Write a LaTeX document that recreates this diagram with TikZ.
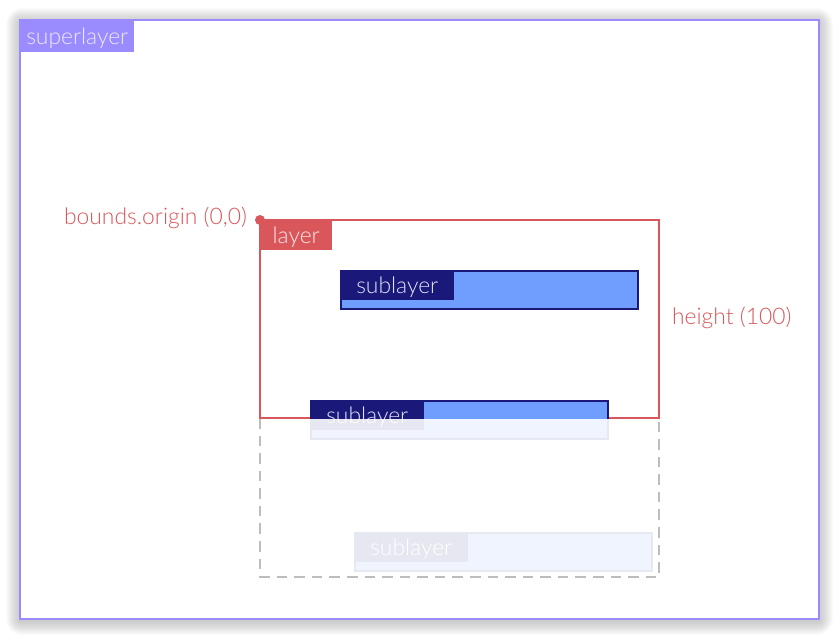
\documentclass[tikz,border=0pt]{standalone}
\usepackage{fontspec}
\setmainfont{Lato Light}
\definecolor{superc}{HTML}{9A8CFF}
\definecolor{supertext}{HTML}{ECE8FF}
\definecolor{layerc}{HTML}{D9575A}
\definecolor{layertext}{HTML}{FBE6E6}
\definecolor{subline}{HTML}{1A1878}
\definecolor{subfill}{HTML}{6F9EFF}
\definecolor{subtext}{HTML}{E2E2FA}
\definecolor{fadeline}{HTML}{E6E8F2}
\definecolor{fadefill}{HTML}{EFF4FE}
\definecolor{fadelabel}{HTML}{E6E7F1}
\definecolor{dashc}{HTML}{BDBDBD}
\colorlet{subedge}{subline}
\colorlet{subbody}{subfill}
\colorlet{subhead}{subline}
\colorlet{subtag}{subtext}

\tikzset{
  tag/.style={inner sep=0pt, minimum height=0.9cm, anchor=north west,
    text depth=0pt, font=\fontsize{19.5}{22}\selectfont},
  pics/sublayer/.style={code={
    \fill[subbody] (0,0) rectangle (299,40);
    \node[tag, fill=subhead, text=subtag, minimum width=3.42cm] (-tag) at (0,0) {sublayer};
    \draw[subedge, line width=1.7pt] (1,1) rectangle (298,39);
  }},
}

\begin{document}
\begin{tikzpicture}[x=0.03cm, y=-0.03cm]
  \useasboundingbox (0,0) rectangle (840,640);
  % shadow of the superlayer
  \foreach \s in {1,...,14}
  \fill[black, opacity=0.016, rounded corners=\s pt] (20-\s, 22-\s) rectangle (819+\s, 621+\s);
  \fill[white] (20,20) rectangle (819,619);
  \draw[superc, line width=1.7pt] (20,20) rectangle (819,619);
  \node[tag, fill=superc, text=supertext, minimum width=3.42cm, minimum height=0.96cm] (superlayer) at (20,20) {superlayer};

  % layer and its bounds
  \draw[dashc, line width=1.2pt, dash pattern=on 9pt off 6pt] (260,418) -- (260,577) -- (659,577) -- (659,418);
  \draw[layerc, line width=1.6pt] (260,220) rectangle (659,418);
  \node[tag, fill=layerc, text=layertext, minimum width=2.16cm] (layer) at (260,220) {layer};
  \fill[layerc] (260,220) circle [radius=0.15cm];
  \node[anchor=east, text=layerc, font=\fontsize{19.5}{22}\selectfont] (origin) at (251,218) {bounds.origin (0,0)};
  \node[anchor=west, text=layerc, font=\fontsize{19.5}{22}\selectfont] (height) at (668,318) {height (100)};

  % sublayers
  \pic (subA) at (340,270) {sublayer};
  \begin{scope}
    \colorlet{subedge}{fadeline}
    \colorlet{subbody}{fadefill}
    \colorlet{subhead}{fadelabel}
    \colorlet{subtag}{white}
    \pic (subBfade) at (310,400) {sublayer};
    \pic (subC) at (354,532) {sublayer};
  \end{scope}
  \begin{scope}
    \clip (260,220) rectangle (659,418);
    \pic (subB) at (310,400) {sublayer};
  \end{scope}
\end{tikzpicture}
\end{document}
